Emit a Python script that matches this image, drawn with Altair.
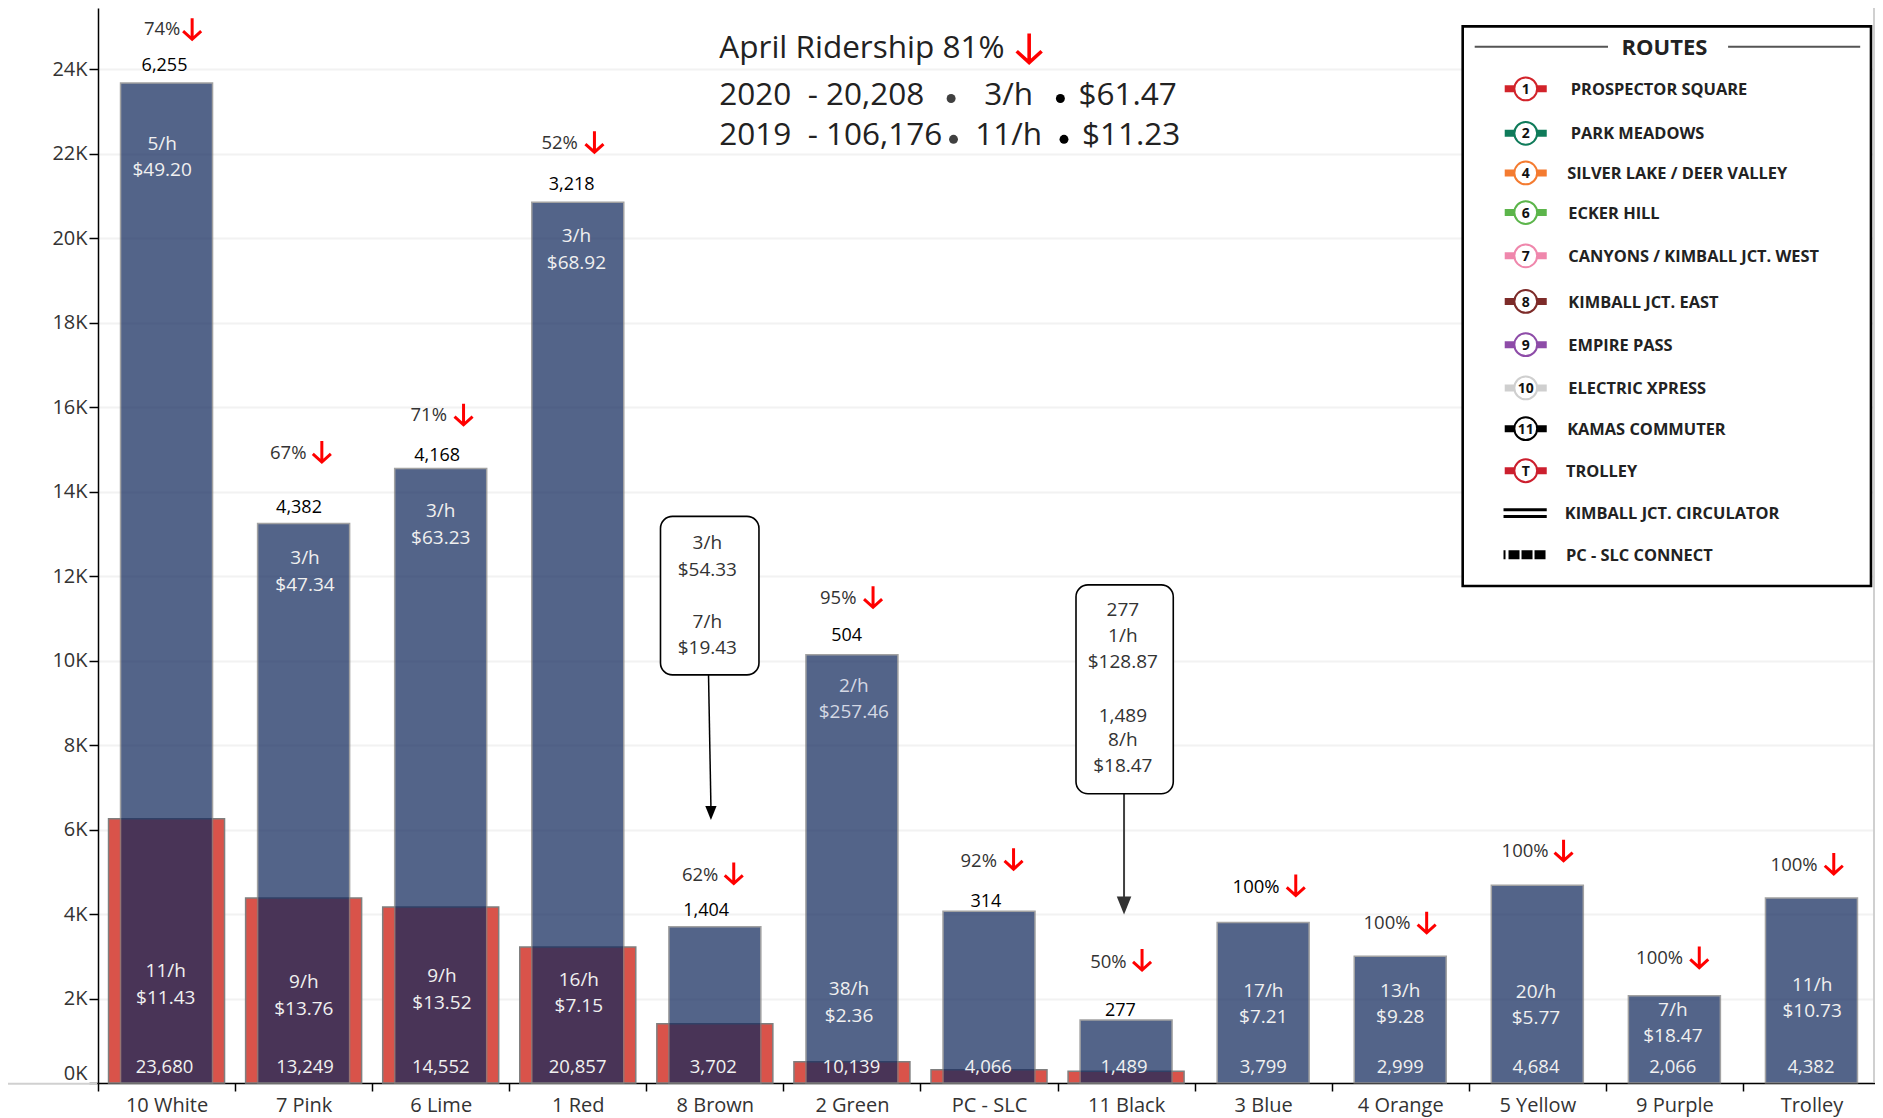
import altair as alt
import pandas as pd

# ---- chart values ----
routes = ["10 White", "7 Pink", "6 Lime", "1 Red", "8 Brown", "2 Green", "PC - SLC",
          "11 Black", "3 Blue", "4 Orange", "5 Yellow", "9 Purple", "Trolley"]
riders_2019 = [23680, 13249, 14552, 20857, 3702, 10139, 4066, 1489, 3799, 2999, 4684, 2066, 4382]
riders_2020 = [6255, 4382, 4168, 3218, 1404, 504, 314, 277, 0, 0, 0, 0, 0]
y_ticks = list(range(0, 26000, 2000))

pct_labels = ["74%", "67%", "71%", "52%", "62%", "95%", "92%", "50%", "100%", "100%", "100%", "100%", "100%"]
pct_centre = [(135, 23.5), (240, 376), (357, 345), (466, 118.5), (583, 728), (698, 497), (815, 716),
              (923, 800), (1046, 738), (1155, 768), (1270, 708), (1382, 797), (1494, 719)]
pct_arrow = [(160, 24), (268, 376), (386, 345), (495, 118), (611, 727), (727, 497), (844, 715),
             (951, 799), (1079, 737), (1188, 768), (1302, 708), (1415, 797), (1527, 719)]
val20_labels = ["6,255", "4,382", "4,168", "3,218", "1,404", "504", "314", "277"]
val20_centre = [(137, 54), (249, 422), (364, 379), (476, 153), (588, 758), (705, 529), (821, 750), (933, 841)]
val19_labels = ["23,680", "13,249", "14,552", "20,857", "3,702", "10,139", "4,066", "1,489",
                "3,799", "2,999", "4,684", "2,066", "4,382"]
val19_x = [137, 254, 367, 481, 594, 709, 823, 936, 1052, 1166, 1279, 1393, 1508]
rates_top = [("5/h", 135, 119), ("$49.20", 135, 141), ("3/h", 254, 464), ("$47.34", 254, 486),
             ("3/h", 367, 425), ("$63.23", 367, 447), ("3/h", 480, 196), ("$68.92", 480, 218),
             ("11/h", 138, 808), ("$11.43", 138, 830), ("9/h", 253, 817), ("$13.76", 253, 839),
             ("9/h", 368, 812), ("$13.52", 368, 834), ("16/h", 482, 815), ("$7.15", 482, 837),
             ("38/h", 707, 823), ("$2.36", 707, 845), ("17/h", 1052, 824), ("$7.21", 1052, 846),
             ("13/h", 1166, 824), ("$9.28", 1166, 846), ("20/h", 1279, 825), ("$5.77", 1279, 847),
             ("7/h", 1393, 840), ("$18.47", 1393, 862), ("11/h", 1509, 819), ("$10.73", 1509, 841)]
rates_dim = [("2/h", 711, 570), ("$257.46", 711, 592)]
callout_text = [("3/h", 589, 451), ("$54.33", 589, 474), ("7/h", 589, 517), ("$19.43", 589, 539),
                ("277", 935, 507), ("1/h", 935, 529), ("$128.87", 935, 550),
                ("1,489", 935, 595), ("8/h", 935, 615), ("$18.47", 935, 637)]
header_left = [("April Ridership 81%", 599, 40), ("2020\u00a0\u00a0- 20,208", 599, 79), ("2019\u00a0\u00a0- 106,176", 599, 112),
               ("$61.47", 898, 79), ("$11.23", 901, 112)]
header_mid = [("3/h", 840, 79), ("11/h", 840, 112)]
legend_rows = [("1", "PROSPECTOR SQUARE", 74, 1308, "#d2232a"), ("2", "PARK MEADOWS", 111, 1308, "#0f7b5a"),
               ("4", "SILVER LAKE / DEER VALLEY", 144, 1305, "#f47b30"), ("6", "ECKER HILL", 177, 1306, "#5cb54b"),
               ("7", "CANYONS / KIMBALL JCT. WEST", 213, 1306, "#ef87ac"), ("8", "KIMBALL JCT. EAST", 251, 1306, "#7d2b29"),
               ("9", "EMPIRE PASS", 287, 1306, "#8e4ca8"), ("10", "ELECTRIC XPRESS", 323, 1306, "#cfcfcf"),
               ("11", "KAMAS COMMUTER", 357, 1305, "#000000"), ("T", "TROLLEY", 392, 1304, "#cc1f2e")]
legend_plain = [("KIMBALL JCT. CIRCULATOR", 427, 1303), ("PC - SLC CONNECT", 462, 1304)]

# ---- reference picture -> chart units ----
S = 1883 / 1568
LEFT, RIGHT, TOP, BASE = 98.0, 1880.0, 8.0, 1083.0
W, H = RIGHT - LEFT, BASE - TOP
PER_UNIT = 0.04223
YMAX = H / PER_UNIT


def sx(v):
    return (v * S - LEFT) / W * 13


def sy(v):
    return (BASE - v * S) / PER_UNIT


FONT = "Open Sans"
X2 = alt.Scale(domain=[0, 13], nice=False, zero=False)
YS = alt.Scale(domain=[0, YMAX], nice=False, zero=False)


def xq(f="x"):
    return alt.X(f"{f}:Q", scale=X2, axis=None)


def yq(f="y"):
    return alt.Y(f"{f}:Q", scale=YS, axis=None)


def text_layer(rows, size, color, weight="normal", align="center"):
    df = pd.DataFrame([{"t": t, "x": sx(x), "y": sy(y + 0.9)} for t, x, y in rows])
    return alt.Chart(df).mark_text(font=FONT, fontSize=size, color=color, fontWeight=weight,
                                   align=align, baseline="middle").encode(x=xq(), y=yq(), text="t:N")


def seg_layer(segs, color, width, dash=None):
    df = pd.DataFrame([{"x": sx(a), "y": sy(b), "x2": sx(c), "y2": sy(d)} for a, b, c, d in segs])
    kw = {"strokeDash": dash} if dash else {}
    return alt.Chart(df).mark_rule(color=color, strokeWidth=width, **kw).encode(
        x=xq(), y=yq(), x2="x2:Q", y2="y2:Q")


def shape_layer(pts, shape, size, **kw):
    df = pd.DataFrame([{"x": sx(a), "y": sy(b)} for a, b in pts])
    return alt.Chart(df).mark_point(shape=shape, size=size, **kw).encode(x=xq(), y=yq())


def box_layer(x0, y0, x1, y1, radius, width, stroke="#000000"):
    df = pd.DataFrame([{"x": sx(x0), "y": sy(y0), "x2": sx(x1), "y2": sy(y1)}])
    return alt.Chart(df).mark_rect(fill="#ffffff", stroke=stroke, strokeWidth=width, cornerRadius=radius).encode(
        x=xq(), y=yq(), x2="x2:Q", y2="y2:Q")


# ---- bars ----
bars = pd.DataFrame({"route": routes, "r19": riders_2019, "r20": riders_2020})
X1 = alt.X("route:N", sort=routes, title=None,
           scale=alt.Scale(domain=routes, paddingInner=0, paddingOuter=0),
           axis=alt.Axis(tickBand="extent", labelAngle=0, labelFont=FONT, labelFontSize=20, labelColor="#333333",
                         tickColor="#000000", tickSize=8, tickWidth=1.5, domainColor="#000000", domainWidth=1.5,
                         labelPadding=4, grid=False))
Y1 = alt.Y("r20:Q", scale=YS, title=None,
           axis=alt.Axis(values=y_ticks, labelExpr="datum.value/1000 + 'K'", labelFont=FONT, labelFontSize=20,
                         labelBaseline={"condition": {"test": "datum.value === 0", "value": "bottom"}, "value": "middle"},
                         labelColor="#333333", tickColor="#000000", tickSize=9, tickWidth=1.5,
                         domainColor="#000000", domainWidth=1.5, gridColor="#f2f2f2", gridWidth=2, labelPadding=2))
red = alt.Chart(bars[bars.r20 > 0]).mark_bar(size=116, color="#d9534a", stroke="#7f7f7f", strokeWidth=1.5).encode(x=X1, y=Y1)
blue = alt.Chart(bars).mark_bar(size=92, color="#12295d", opacity=0.72, stroke="#7f7f7f", strokeWidth=1.5).encode(
    x=X1, y=alt.Y("r19:Q", scale=YS))

# ---- red arrows, frame lines ----
ARROW = "M0,-1L0,1M-0.86,0.22L0,1L0.86,0.22"
HEAD = "M-0.8,-1L0.8,-1L0,1Z"
frame = [
    seg_layer([(2, 5.3, 1560.5, 5.3), (1560.5, 5.3, 1560.5, 901), (2, 902.5, 81, 902.5)], "#d0d0d0", 2),
]
arrows = [
    shape_layer(pct_arrow, ARROW, 441, stroke="#ff0000", strokeWidth=3, filled=False, opacity=1),
    shape_layer([(857, 40)], ARROW, 841, stroke="#ff0000", strokeWidth=3.6, filled=False, opacity=1),
]
dots = [
    shape_layer([(792, 82), (794, 116)], "circle", 80, fill="#404040", strokeWidth=0, filled=True, opacity=1),
    shape_layer([(883, 82), (886, 116)], "circle", 80, fill="#000000", strokeWidth=0, filled=True, opacity=1),
]

# ---- callouts ----
callouts = [
    seg_layer([(590, 562, 592, 672)], "#000000", 1.5),
    seg_layer([(936, 661, 936, 748)], "#404040", 2),
    box_layer(550, 430, 632, 562, 12, 1.6),
    box_layer(896, 487, 977, 661, 12, 1.6),
    shape_layer([(592, 677)], HEAD, 200, fill="#000000", strokeWidth=0, filled=True, opacity=1),
    shape_layer([(936, 754)], HEAD, 330, fill="#333333", strokeWidth=0, filled=True, opacity=1),
]

# ---- legend ----
legend = [
    box_layer(1218, 22, 1558, 488, 0, 2.6),
    seg_layer([(1228, 39, 1339, 39), (1439, 39, 1549, 39)], "#555555", 2),
    text_layer([("ROUTES", 1386, 39)], 22, "#222222", "bold"),
]
for num, name, y, tx, col in legend_rows:
    legend.append(seg_layer([(1253, y, 1288, y)], col, 7))
    legend.append(shape_layer([(1270.5, y)], "circle", 520, fill="#ffffff", stroke=col, strokeWidth=2, filled=True, opacity=1))
legend.append(text_layer([(r[0], 1270.5, r[2]) for r in legend_rows], 14, "#111111", "bold"))
legend.append(text_layer([(r[1], r[3], r[2]) for r in legend_rows], 16.4, "#222222", "bold", "left"))
legend.append(seg_layer([(1252, 424.5, 1288, 424.5), (1252, 430, 1288, 430)], "#000000", 3))
legend.append(seg_layer([(1252, 462, 1288, 462)], "#000000", 9, [2, 3, 11, 2, 11, 2, 11, 3, 2]))
legend.append(text_layer([(t, x, y) for t, y, x in legend_plain], 16.4, "#222222", "bold", "left"))

texts = [
    text_layer([(t, *p) for t, p in zip(pct_labels[:8], pct_centre[:8])], 18.5, "#333333"),
    text_layer([(pct_labels[8], *pct_centre[8])], 18.5, "#000000", 500),
    text_layer([(t, *p) for t, p in zip(pct_labels[9:], pct_centre[9:])], 18.5, "#333333"),
    text_layer([(t, *p) for t, p in zip(val20_labels, val20_centre)], 18, "#000000", 500),
    text_layer([(t, x, 888) for t, x in zip(val19_labels, val19_x)], 18.5, "#f0f0f0"),
    text_layer(rates_top, 19, "#f0f0f0"),
    text_layer(rates_dim, 19, "#d4d8e4"),
    text_layer(callout_text, 19, "#333333"),
    text_layer(header_left, 31.5, "#222222", "normal", "left"),
    text_layer(header_mid, 31.5, "#222222"),
]

base = alt.layer(red, blue)
overlay = alt.layer(*frame, *callouts, *arrows, *dots, *legend, *texts)

chart = (
    alt.layer(base, overlay)
    .resolve_scale(x="independent", y="independent")
    .properties(width=W, height=H, padding={"left": 90, "top": 0, "right": -5, "bottom": 35},
                autosize=alt.AutoSizeParams(type="none"))
    .configure_view(stroke=None)
    .configure_axis(labelFont=FONT)
)
chart.save("out.html", embed_options={"renderer": "svg", "actions": False})
